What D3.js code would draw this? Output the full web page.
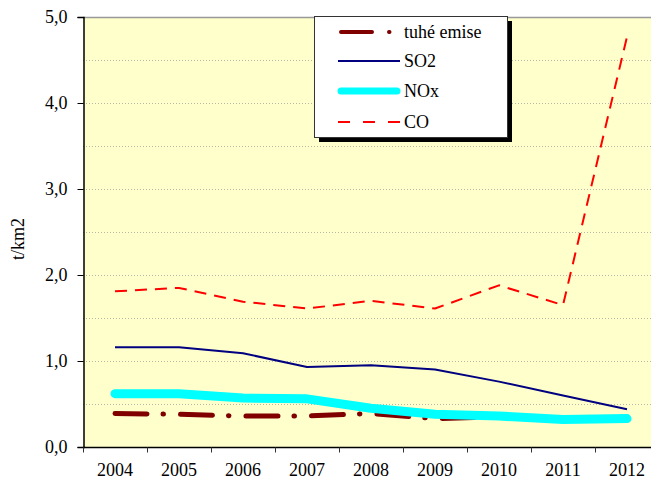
<!DOCTYPE html>
<html>
<head>
<meta charset="utf-8">
<script src="https://cdn.jsdelivr.net/npm/d3@7"></script>
<style>
  body { margin: 0; background: #fff; }
  svg { display: block; }
  svg text { font-family: "Liberation Serif", "Times New Roman", Times, "DejaVu Serif", serif; }
</style>
</head>
<body>
<div id="chart"></div>
<script>
const years = ["2004", "2005", "2006", "2007", "2008", "2009", "2010", "2011", "2012"];
const tuheEmise = [0.39, 0.38, 0.36, 0.36, 0.39, 0.33, 0.35, 0.32, 0.33];
const so2 = [1.16, 1.16, 1.09, 0.93, 0.95, 0.90, 0.76, 0.60, 0.44];
const nox = [0.62, 0.62, 0.57, 0.56, 0.45, 0.38, 0.36, 0.32, 0.33];
const co = [1.81, 1.85, 1.69, 1.61, 1.70, 1.61, 1.88, 1.65, 4.77];
const yTicks = [0, 1, 2, 3, 4, 5];
const yLabel = "t/km2";

const series = [
  { name: "tuhé emise", values: tuheEmise, color: "#800000", width: 5, dash: "32,16,0.5,17", cap: "round" },
  { name: "SO2", values: so2, color: "#000080", width: 2, dash: null, cap: "butt" },
  { name: "NOx", values: nox, color: "#00FFFF", width: 9, dash: null, cap: "round" },
  { name: "CO", values: co, color: "#FF0000", width: 2, dash: "12,8", cap: "butt" }
];

const width = 651;
const height = 478;
const plot = { l: 83, t: 17, r: 659, b: 447 };
const serif = "'Liberation Serif', 'Times New Roman', serif";
const fontSize = 18;

const svg = d3.select("#chart").append("svg")
  .attr("width", width)
  .attr("height", height)
  .attr("font-family", serif);

const x = d3.scaleBand().domain(years).range([plot.l, plot.r]).padding(0);
const y = d3.scaleLinear().domain([0, 5]).range([plot.b, plot.t]);

// plot background
svg.append("rect")
  .attr("x", plot.l).attr("y", plot.t)
  .attr("width", plot.r - plot.l).attr("height", plot.b - plot.t)
  .attr("fill", "#FFFFCC");

// dotted gridlines every 0.5
const gridVals = d3.range(0.5, 5, 0.5);
svg.append("g").selectAll("line").data(gridVals).join("line")
  .attr("x1", plot.l).attr("x2", plot.r)
  .attr("y1", (d) => Math.round(y(d)) + 0.5).attr("y2", (d) => Math.round(y(d)) + 0.5)
  .attr("stroke", "#b8b8a8")
  .attr("stroke-width", 1)
  .attr("stroke-dasharray", "1,2");

// top border
svg.append("line")
  .attr("x1", plot.l).attr("x2", plot.r)
  .attr("y1", plot.t + 0.5).attr("y2", plot.t + 0.5)
  .attr("stroke", "#999").attr("stroke-width", 1.5);

// y axis
const yAxis = svg.append("g")
  .attr("transform", `translate(${plot.l + 0.5},0)`)
  .call(d3.axisLeft(y).tickValues(yTicks).tickSize(6).tickPadding(10)
    .tickFormat((d) => d3.format(".1f")(d).replace(".", ",")))
  .attr("font-family", serif)
  .attr("font-size", fontSize);
yAxis.select(".domain").attr("stroke", "#000").attr("stroke-width", 1.5);
yAxis.selectAll(".tick line").attr("stroke", "#000");
yAxis.selectAll("text").attr("fill", "#000");

// x axis with ticks at band boundaries
const xAxisG = svg.append("g").attr("transform", `translate(0,${plot.b + 0.5})`);
xAxisG.append("line")
  .attr("x1", plot.l).attr("x2", plot.r)
  .attr("stroke", "#000").attr("stroke-width", 1.5);
const boundaries = years.map((d) => x(d)).concat([plot.r]);
xAxisG.selectAll("line.tk").data(boundaries).join("line")
  .attr("class", "tk")
  .attr("x1", (d) => Math.round(d) + 0.5).attr("x2", (d) => Math.round(d) + 0.5)
  .attr("y1", 0).attr("y2", 5)
  .attr("stroke", "#333");
xAxisG.selectAll("text").data(years).join("text")
  .attr("x", (d) => x(d) + x.bandwidth() / 2)
  .attr("y", 28)
  .attr("text-anchor", "middle")
  .attr("font-size", fontSize)
  .text((d) => d);

// y label
svg.append("text")
  .attr("transform", "translate(24,239) rotate(-90)")
  .attr("text-anchor", "middle")
  .attr("font-size", fontSize)
  .text(yLabel);

// lines
const line = d3.line()
  .x((d, i) => x(years[i]) + x.bandwidth() / 2)
  .y((d) => y(d));

svg.append("g").selectAll("path").data(series).join("path")
  .attr("d", (d) => line(d.values))
  .attr("fill", "none")
  .attr("stroke", (d) => d.color)
  .attr("stroke-width", (d) => d.width)
  .attr("stroke-dasharray", (d) => d.dash)
  .attr("stroke-linecap", (d) => d.cap)
  .attr("stroke-linejoin", "round");

// legend
const lg = { x: 314, y: 16, w: 193, h: 121 };
svg.append("rect")
  .attr("x", lg.x + 5).attr("y", lg.y + 5)
  .attr("width", lg.w).attr("height", lg.h)
  .attr("fill", "#000");
svg.append("rect")
  .attr("x", lg.x + 0.5).attr("y", lg.y + 0.5)
  .attr("width", lg.w).attr("height", lg.h)
  .attr("fill", "#fff").attr("stroke", "#333").attr("stroke-width", 1);

const rowY = [32, 61, 91, 122];
const legendItems = svg.append("g").selectAll("g").data(series).join("g")
  .attr("transform", (d, i) => `translate(0,${rowY[i]})`);
legendItems.append("line")
  .attr("x1", (d) => d.cap === "round" ? 341 : 338)
  .attr("x2", (d) => d.cap === "round" ? 397 : 400)
  .attr("stroke", (d) => d.color)
  .attr("stroke-width", (d) => d.name === "NOx" ? 7 : d.name === "tuhé emise" ? 4 : d.width)
  .attr("stroke-dasharray", (d) => d.name === "tuhé emise" ? "31,17,0.5,20" : d.name === "CO" ? "12,13" : null)
  .attr("stroke-linecap", (d) => d.cap);
legendItems.append("text")
  .attr("x", 404)
  .attr("y", 6)
  .attr("font-size", fontSize)
  .text((d) => d.name);
</script>
</body>
</html>
